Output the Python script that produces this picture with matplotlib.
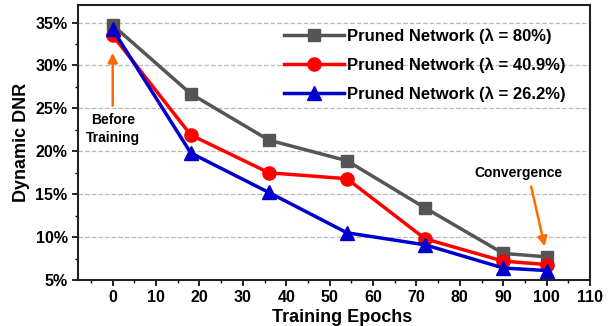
import matplotlib
matplotlib.use("Agg")
import matplotlib.pyplot as plt
from matplotlib.ticker import MultipleLocator, FuncFormatter

# datos
epochs = [0, 18, 36, 54, 72, 90, 100]
dnr_80 = [34.7, 26.7, 21.3, 18.9, 13.4, 8.1, 7.7]
dnr_409 = [33.5, 21.9, 17.5, 16.8, 9.8, 7.2, 6.8]
dnr_262 = [34.2, 19.8, 15.2, 10.5, 9.1, 6.4, 6.1]
labels = ['Pruned Network (λ = 80%)', 'Pruned Network (λ = 40.9%)', 'Pruned Network (λ = 26.2%)']

plt.rcParams['font.family'] = ['Liberation Sans', 'DejaVu Sans']
plt.rcParams['font.weight'] = 'bold'

fig = plt.figure(figsize=(6.11, 3.26), dpi=100)
ax = fig.add_axes([78 / 611, 1 - 280 / 326, (590 - 78) / 611, (280 - 5) / 326])

ax.plot(epochs, dnr_80, '-s', color='#555555', lw=2.5, ms=9, label=labels[0])
ax.plot(epochs, dnr_409, '-o', color='#FF0000', lw=2.5, ms=9.5, label=labels[1])
ax.plot(epochs, dnr_262, '-^', color='#0000CC', lw=2.5, ms=10, label=labels[2])

ax.set_xlim(-8, 110)
ax.set_ylim(5, 37.05)
ax.xaxis.set_major_locator(MultipleLocator(10))
ax.xaxis.set_minor_locator(MultipleLocator(5))
ax.yaxis.set_major_locator(MultipleLocator(5))
ax.yaxis.set_minor_locator(MultipleLocator(2.5))
ax.yaxis.set_major_formatter(FuncFormatter(lambda v, p: '%d%%' % v))
ax.tick_params(which='major', length=4, width=1.2, labelsize=11.5)
ax.tick_params(which='minor', length=2.5, width=1)
for s in ax.spines.values():
    s.set_linewidth(1.5)
    s.set_color('#222222')

ax.grid(axis='y', which='major', linestyle='--', color='#BBBBBB', lw=0.9)
ax.set_axisbelow(True)

ax.set_xlabel('Training Epochs', fontsize=13, fontweight='bold', labelpad=3)
ax.xaxis.set_label_coords(0.515, -0.105)
ax.set_ylabel('Dynamic DNR', fontsize=13, fontweight='bold', labelpad=4)

# anotaciones
orange = '#FF6A00'
ax.annotate('', xy=(0, 31.8), xytext=(0, 25.0),
            arrowprops=dict(arrowstyle='-|>', color=orange, lw=1.8, mutation_scale=14))
ax.text(0, 22.6, 'Before\nTraining', ha='center', va='center', fontsize=10,
        fontweight='bold', linespacing=1.3)
ax.annotate('', xy=(99.7, 8.6), xytext=(96.3, 16.2),
            arrowprops=dict(arrowstyle='-|>', color=orange, lw=1.8, mutation_scale=14))
ax.text(93.5, 17.5, 'Convergence', ha='center', va='center', fontsize=10, fontweight='bold')

ax.legend(loc='upper right', frameon=False, fontsize=12, handlelength=3.6,
          borderaxespad=0.2, labelspacing=0.8, handletextpad=0.2,
          bbox_to_anchor=(0.972, 0.95))

fig.savefig('out.png', dpi=100)
